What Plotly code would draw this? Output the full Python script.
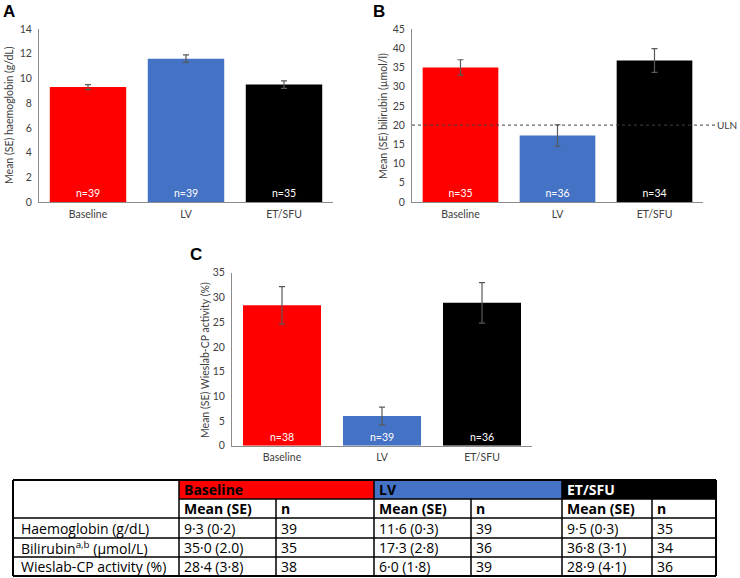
import plotly.graph_objects as go

W, H = 740, 578
categories = ["Baseline", "LV", "ET/SFU"]
colors = ["#FF0000", "#4472C4", "#000000"]

hb_mean = [9.3, 11.6, 9.5]
hb_se = [0.2, 0.3, 0.3]
hb_n = [39, 39, 35]

bili_mean = [35.0, 17.3, 36.8]
bili_se = [2.0, 2.8, 3.1]
bili_n = [35, 36, 34]
uln_value = 20

wies_mean = [28.4, 6.0, 28.9]
wies_se = [3.8, 1.8, 4.1]
wies_n = [38, 39, 36]

table_rows = ["Haemoglobin (g/dL)", "Bilirubin<sup>a,b</sup> (µmol/L)", "Wieslab-CP activity (%)"]
table_means = [
    ["9·3 (0·2)", "11·6 (0·3)", "9·5 (0·3)"],
    ["35·0 (2.0)", "17·3 (2·8)", "36·8 (3·1)"],
    ["28·4 (3·8)", "6·0 (1·8)", "28·9 (4·1)"],
]
table_ns = [
    ["39", "39", "35"],
    ["35", "36", "34"],
    ["38", "39", "36"],
]

FONT = "Lato"
TFONT = "Open Sans"

def px(x):
    return x / W

def py(y):
    return 1 - y / H

fig = go.Figure()

panels = [
    (hb_mean, hb_se, hb_n, "x", "y"),
    (bili_mean, bili_se, bili_n, "x2", "y2"),
    (wies_mean, wies_se, wies_n, "x3", "y3"),
]
for mean, se, n, xa, ya in panels:
    fig.add_trace(go.Bar(
        x=categories, y=mean,
        marker=dict(color=colors, line=dict(width=0)),
        error_y=dict(type="data", array=se, visible=True, color="#595959", thickness=1.2, width=3),
        text=[f"n={v}" for v in n],
        textposition="inside", insidetextanchor="start",
        textfont=dict(color="white", size=10.5, family=FONT),
        cliponaxis=False,
        xaxis=xa, yaxis=ya, showlegend=False, hoverinfo="skip",
    ))

tickfont = dict(size=10.5, family=FONT, color="#404040")
xcommon = dict(showline=True, linecolor="#8c8c8c", linewidth=1, showgrid=False, zeroline=False,
               ticks="", tickfont=tickfont, automargin=False, ticklabelstandoff=2)
ycommon = dict(showline=True, linecolor="#8c8c8c", linewidth=1, showgrid=False, zeroline=False,
               ticks="", tickfont=tickfont, automargin=False, ticklabelstandoff=4)

fig.update_layout(
    width=W, height=H,
    margin=dict(l=0, r=0, t=0, b=0, autoexpand=False),
    paper_bgcolor="white", plot_bgcolor="white",
    bargap=0.22,
    font=dict(family=FONT),
    xaxis=dict(xcommon, domain=[px(39), px(333)], anchor="y"),
    yaxis=dict(ycommon, domain=[py(202), py(29)], range=[0, 14], dtick=2, anchor="x"),
    xaxis2=dict(xcommon, domain=[px(412), px(703)], anchor="y2"),
    yaxis2=dict(ycommon, domain=[py(202), py(29)], range=[0, 45], dtick=5, anchor="x2"),
    xaxis3=dict(xcommon, domain=[px(232), px(532)], anchor="y3"),
    yaxis3=dict(ycommon, domain=[py(445.7), py(272.7)], range=[0, 35], dtick=5, anchor="x3"),
)

shapes = []
annotations = []

# Y-axis titles
ytitle_font = dict(size=10.5, family=FONT, color="#404040")
for text, x, y in [("Mean (SE) haemoglobin (g/dL)", 9, 115),
                   ("Mean (SE) bilirubin (µmol/l)", 383, 116),
                   ("Mean (SE) Wieslab-CP activity (%)", 205, 360)]:
    annotations.append(dict(text=text, xref="paper", yref="paper", x=px(x), y=py(y), textangle=-90,
                            xanchor="center", yanchor="middle", showarrow=False, font=ytitle_font))

# ULN line
shapes.append(dict(type="line", xref="paper", yref="y2", x0=px(412), x1=px(717), y0=uln_value, y1=uln_value,
                   line=dict(color="#404040", width=1, dash="dot")))
annotations.append(dict(text="ULN", xref="paper", yref="y2", x=px(739), y=uln_value, xanchor="right",
                        yanchor="middle", showarrow=False, font=dict(size=10, family=FONT, color="#404040")))

# Panel letters
for letter, x, y in [("A", 9, 12), ("B", 379, 12), ("C", 196, 254)]:
    annotations.append(dict(text=f"<b>{letter}</b>", xref="paper", yref="paper", x=px(x), y=py(y),
                            xanchor="center", yanchor="middle", showarrow=False,
                            font=dict(size=17, family="Liberation Sans", color="black")))

# Table
col_x = [13, 179, 276, 374, 471, 562, 652, 716]
row_y = [480, 499, 518, 538, 557, 576]
group_fill = ["#FF0000", "#4472C4", "#000000"]
group_text = ["black", "black", "white"]
TF = dict(size=14, family=TFONT, color="black")

for g in range(3):
    x0, x1 = col_x[1 + 2 * g], col_x[3 + 2 * g]
    shapes.append(dict(type="rect", xref="paper", yref="paper", x0=px(x0), x1=px(x1), y0=py(row_y[1]), y1=py(row_y[0]),
                       fillcolor=group_fill[g], line=dict(width=0), layer="below"))
    annotations.append(dict(text=f"<b>{categories[g]}</b>", xref="paper", yref="paper", x=px(x0 + 3), y=py((row_y[0] + row_y[1]) / 2),
                            xanchor="left", yanchor="middle", showarrow=False,
                            font=dict(TF, color=group_text[g])))
    annotations.append(dict(text="<b>Mean (SE)</b>", xref="paper", yref="paper", x=px(x0 + 3), y=py((row_y[1] + row_y[2]) / 2),
                            xanchor="left", yanchor="middle", showarrow=False, font=TF))
    annotations.append(dict(text="<b>n</b>", xref="paper", yref="paper", x=px(col_x[2 + 2 * g] + 3), y=py((row_y[1] + row_y[2]) / 2),
                            xanchor="left", yanchor="middle", showarrow=False, font=TF))

for r, label in enumerate(table_rows):
    yc = py((row_y[2 + r] + row_y[3 + r]) / 2)
    annotations.append(dict(text=label, xref="paper", yref="paper", x=px(col_x[0] + 6), y=yc,
                            xanchor="left", yanchor="middle", showarrow=False, font=TF))
    for g in range(3):
        annotations.append(dict(text=table_means[r][g], xref="paper", yref="paper", x=px(col_x[1 + 2 * g] + 3), y=yc,
                                xanchor="left", yanchor="middle", showarrow=False, font=TF))
        annotations.append(dict(text=table_ns[r][g], xref="paper", yref="paper", x=px(col_x[2 + 2 * g] + 3), y=yc,
                                xanchor="left", yanchor="middle", showarrow=False, font=TF))

def hline(x0, x1, y, w=1.5):
    shapes.append(dict(type="line", xref="paper", yref="paper", x0=px(x0), x1=px(x1), y0=py(y), y1=py(y),
                       line=dict(color="black", width=w)))

def vline(x, y0, y1, w=1.5):
    shapes.append(dict(type="line", xref="paper", yref="paper", x0=px(x), x1=px(x), y0=py(y0), y1=py(y1),
                       line=dict(color="black", width=w)))

# outer border
hline(col_x[0], col_x[-1], row_y[0], 2)
hline(col_x[0], col_x[-1], row_y[-1], 2)
vline(col_x[0], row_y[0], row_y[-1], 2)
vline(col_x[-1], row_y[0], row_y[-1], 2)
# inner horizontals
hline(col_x[1], col_x[-1], row_y[1])
for y in row_y[2:-1]:
    hline(col_x[0], col_x[-1], y)
# inner verticals
for x in [col_x[1], col_x[3], col_x[5]]:
    vline(x, row_y[0], row_y[-1])
for x in [col_x[2], col_x[4], col_x[6]]:
    vline(x, row_y[1], row_y[-1])

fig.update_layout(shapes=shapes, annotations=annotations)
fig.write_html("out.html", config={"displayModeBar": False},
               post_script="document.body.style.margin='0';document.body.style.overflow='hidden';")
